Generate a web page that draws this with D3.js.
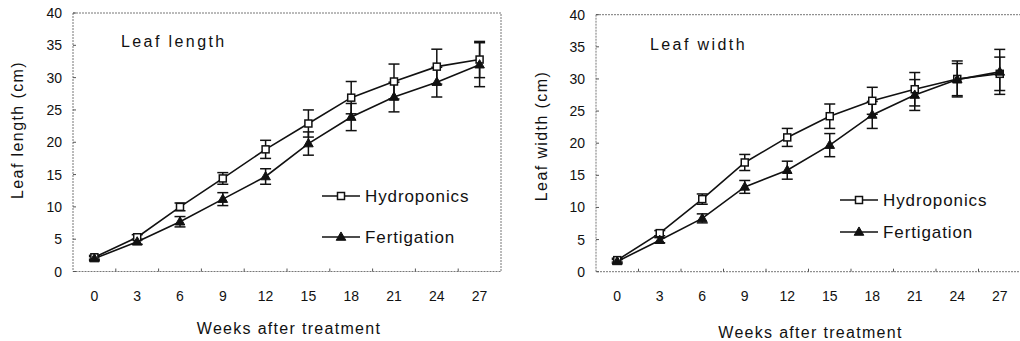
<!DOCTYPE html>
<html>
<head>
<meta charset="utf-8">
<script src="https://cdn.jsdelivr.net/npm/d3@7"></script>
<style>
  body { margin: 0; background: #fff; }
  text { font-family: "Liberation Sans", Arial, sans-serif; fill: #111; }
</style>
</head>
<body>
<div id="chart"></div>
<script>
// data
var weeks = [0, 3, 6, 9, 12, 15, 18, 21, 24, 27];
var yTicks = [0, 5, 10, 15, 20, 25, 30, 35, 40];
var seriesNames = ["Hydroponics", "Fertigation"];

var lengthHydro    = [2.2, 5.3, 10.0, 14.4, 18.9, 22.9, 26.9, 29.4, 31.7, 32.8];
var lengthHydroErr = [0.3, 0.4, 0.6, 0.9, 1.4, 2.1, 2.5, 2.7, 2.7, 2.8];
var lengthFert     = [2.0, 4.6, 7.7, 11.2, 14.7, 19.8, 23.9, 27.0, 29.3, 32.0];
var lengthFertErr  = [0.3, 0.4, 0.8, 1.0, 1.2, 1.8, 2.1, 2.3, 2.3, 3.4];

var widthHydro    = [1.8, 6.0, 11.3, 17.0, 20.9, 24.2, 26.6, 28.4, 30.0, 30.8];
var widthHydroErr = [0.3, 0.4, 0.8, 1.25, 1.4, 1.9, 2.1, 2.6, 2.8, 2.6];
var widthFert     = [1.6, 4.9, 8.3, 13.2, 15.8, 19.7, 24.4, 27.5, 29.9, 31.1];
var widthFertErr  = [0.3, 0.4, 0.7, 1.0, 1.4, 1.8, 2.1, 2.4, 2.5, 3.5];

var svg = d3.select("#chart").append("svg")
  .attr("width", 1020)
  .attr("height", 341);

var panels = [
  { title: "Leaf length", yTitle: "Leaf length (cm)",
    hydro: lengthHydro, hydroErr: lengthHydroErr, fert: lengthFert, fertErr: lengthFertErr,
    left: 73, right: 501, top: 13, bottom: 271.5,
    titleX: 121, titleY: 47, yTitleX: 17, yTitleY: 130, xTitleY: 334,
    legX: 322, legY: [196, 237] },
  { title: "Leaf width", yTitle: "Leaf width (cm)",
    hydro: widthHydro, hydroErr: widthHydroErr, fert: widthFert, fertErr: widthFertErr,
    left: 596, right: 1021, top: 14.7, bottom: 271.7,
    titleX: 650, titleY: 50, yTitleX: 541, yTitleY: 136, xTitleY: 338,
    legX: 840, legY: [200, 232] }
];

var tri = d3.symbol().type(d3.symbolTriangle).size(40);

function drawMarker(g, kind, cx, cy) {
  if (kind === 0) {
    g.append("rect")
      .attr("x", cx - 3.5).attr("y", cy - 3.5)
      .attr("width", 7).attr("height", 7)
      .attr("fill", "#fff").attr("stroke", "#111").attr("stroke-width", 1.5);
  } else {
    g.append("path")
      .attr("d", tri)
      .attr("transform", "translate(" + cx + "," + (cy + 0.5) + ")")
      .attr("fill", "#111").attr("stroke", "#111").attr("stroke-width", 1);
  }
}

function drawPanel(p) {
  var g = svg.append("g");

  var x = d3.scaleBand().domain(weeks).range([p.left, p.right]);
  var cx = function(w) { return x(w) + x.bandwidth() / 2; };
  var y = d3.scaleLinear().domain([0, 40]).range([p.bottom, p.top]);

  // frame
  g.append("rect")
    .attr("x", p.left).attr("y", p.top)
    .attr("width", p.right - p.left).attr("height", p.bottom - p.top)
    .attr("fill", "none").attr("stroke", "#777").attr("stroke-width", 1)
    .attr("stroke-dasharray", "2,1");

  // y ticks + labels
  yTicks.forEach(function(t) {
    g.append("line")
      .attr("x1", p.left).attr("x2", p.left + 3)
      .attr("y1", y(t)).attr("y2", y(t))
      .attr("stroke", "#555");
    g.append("text")
      .attr("x", p.left - 11).attr("y", y(t))
      .attr("dy", "0.36em")
      .attr("text-anchor", "end")
      .style("font-size", "14px")
      .text(t);
  });

  // x ticks between categories
  weeks.slice(1).forEach(function(w) {
    g.append("line")
      .attr("x1", x(w)).attr("x2", x(w))
      .attr("y1", p.bottom).attr("y2", p.bottom - 3)
      .attr("stroke", "#555");
  });
  weeks.forEach(function(w) {
    g.append("text")
      .attr("x", cx(w)).attr("y", p.bottom + 29)
      .attr("text-anchor", "middle")
      .style("font-size", "14px")
      .text(w);
  });

  // axis titles
  g.append("text")
    .attr("x", (p.left + p.right) / 2 + 2).attr("y", p.xTitleY)
    .attr("text-anchor", "middle")
    .style("font-size", "16px").style("letter-spacing", "1.3px")
    .text("Weeks after treatment");

  g.append("text")
    .attr("transform", "translate(" + p.yTitleX + "," + p.yTitleY + ") rotate(-90)")
    .attr("text-anchor", "middle")
    .attr("dy", "0.35em")
    .style("font-size", "16px").style("letter-spacing", "1.4px")
    .text(p.yTitle);

  g.append("text")
    .attr("x", p.titleX).attr("y", p.titleY)
    .style("font-size", "16px").style("letter-spacing", "2.4px")
    .text(p.title);

  var series = [
    { vals: p.hydro, err: p.hydroErr },
    { vals: p.fert, err: p.fertErr }
  ];

  var line = d3.line()
    .x(function(d, i) { return cx(weeks[i]); })
    .y(function(d) { return y(d); });

  // error bars
  series.forEach(function(s) {
    s.vals.forEach(function(v, i) {
      var xx = cx(weeks[i]);
      var lo = y(v - s.err[i]), hi = y(v + s.err[i]);
      g.append("line").attr("x1", xx).attr("x2", xx).attr("y1", lo).attr("y2", hi)
        .attr("stroke", "#111").attr("stroke-width", 1.5);
      [lo, hi].forEach(function(yy) {
        g.append("line").attr("x1", xx - 5.5).attr("x2", xx + 5.5).attr("y1", yy).attr("y2", yy)
          .attr("stroke", "#111").attr("stroke-width", 1.5);
      });
    });
  });

  series.forEach(function(s) {
    g.append("path")
      .datum(s.vals)
      .attr("d", line)
      .attr("fill", "none").attr("stroke", "#111").attr("stroke-width", 1.6);
  });

  series.forEach(function(s, k) {
    s.vals.forEach(function(v, i) {
      drawMarker(g, k, cx(weeks[i]), y(v));
    });
  });

  // legend
  seriesNames.forEach(function(name, k) {
    var ly = p.legY[k];
    g.append("line")
      .attr("x1", p.legX).attr("x2", p.legX + 38)
      .attr("y1", ly).attr("y2", ly)
      .attr("stroke", "#111").attr("stroke-width", 1.6);
    drawMarker(g, k, p.legX + 19, ly);
    g.append("text")
      .attr("x", p.legX + 43).attr("y", ly)
      .attr("dy", "0.36em")
      .style("font-size", "17px").style("letter-spacing", "0.9px")
      .text(name);
  });
}

panels.forEach(drawPanel);
</script>
</body>
</html>
